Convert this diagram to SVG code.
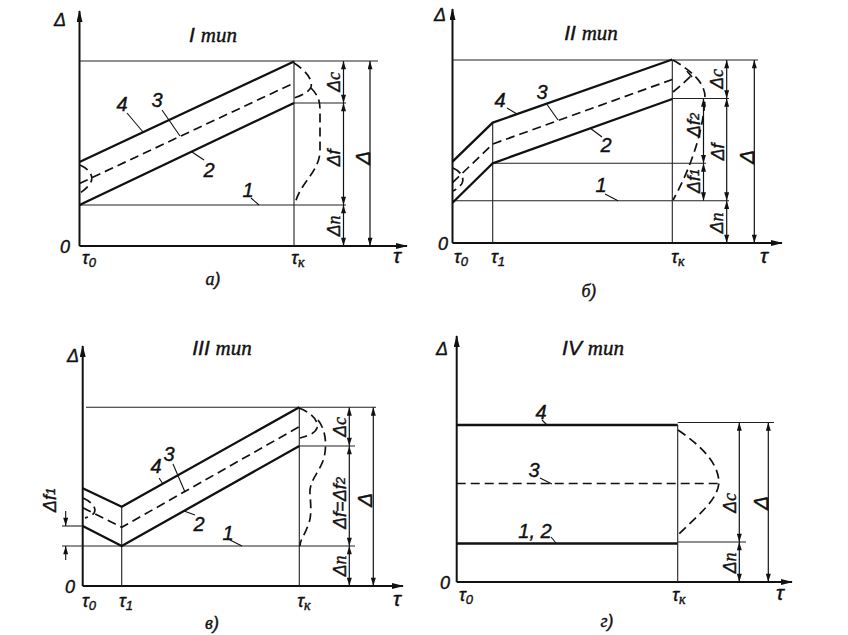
<svg xmlns="http://www.w3.org/2000/svg" width="848" height="635" viewBox="0 0 848 635">
<style>
.bg{fill:#fff}
.ax{stroke:#111;stroke-width:2;fill:none;marker-end:url(#axa)}
.thk{stroke:#111;stroke-width:2.3;fill:none;stroke-linejoin:round}
.thin{stroke:#222;stroke-width:1.1;fill:none}
.dash{stroke:#111;stroke-width:1.7;fill:none;stroke-dasharray:9 5}
.dim{stroke:#111;stroke-width:1.2;fill:none;marker-start:url(#ar);marker-end:url(#ar)}
.ldr{stroke:#111;stroke-width:1.1;fill:none}
.t{font-family:"Liberation Sans",Arial,sans-serif;font-style:italic;fill:#111;font-size:18px;stroke:#111;stroke-width:0.4}
.n{font-size:20px}
.ttl{font-size:21px}
.cy{font-family:"Liberation Serif","Times New Roman",serif;font-style:italic}
.dl{font-size:18px}
.big{font-size:21px}
</style>
<defs>
<marker id="ar" viewBox="0 0 10 6" refX="10" refY="3" markerWidth="9" markerHeight="5" markerUnits="userSpaceOnUse" orient="auto-start-reverse"><path d="M0,0 L10,3 L0,6 z" fill="#111"/></marker>
<marker id="axa" viewBox="0 0 12 6" refX="11" refY="3" markerWidth="12" markerHeight="6" markerUnits="userSpaceOnUse" orient="auto"><path d="M0,0 L12,3 L0,6 z" fill="#111"/></marker>
</defs>
<rect class="bg" width="848" height="635"/>

<!-- Panel a -->
<g id="panel-a">
<g id="a-connectors">
<line class="ax" x1="79.5" y1="246" x2="79.5" y2="11"/>
<line class="ax" x1="79.5" y1="246" x2="407" y2="246"/>
<line class="thin" x1="79.5" y1="61" x2="378" y2="61"/>
<line class="thin" x1="294" y1="61" x2="294" y2="246"/>
<line class="thin" x1="79.5" y1="205" x2="346" y2="205"/>
<line class="thin" x1="294" y1="103" x2="346" y2="103"/>
<line class="thk" x1="79.5" y1="162" x2="294" y2="61.5"/>
<line class="thk" x1="79.5" y1="205" x2="294" y2="103"/>
<line class="dash" x1="79.5" y1="183.5" x2="294" y2="83"/>
<line class="dim" x1="343.5" y1="61" x2="343.5" y2="103"/>
<line class="dim" x1="343.5" y1="103" x2="343.5" y2="205"/>
<line class="dim" x1="343.5" y1="205" x2="343.5" y2="246"/>
<line class="dim" x1="370" y1="61" x2="370" y2="246"/>
<path class="dash" d="M80,165 C91,170 95,178 89,185 C86,189 83,191 80,193"/>
<path class="dash" d="M294,63 C305,70 313,79 311,87 C309,92 301,96 294,98"/>
<path class="dash" d="M311,88 C318,95 320,101 320,110 L320,150 C320,172 300,182 295,204"/>
<line class="ldr" x1="127" y1="113" x2="143" y2="132"/>
<line class="ldr" x1="162" y1="110" x2="180" y2="136"/>
<line class="ldr" x1="204" y1="160" x2="192" y2="152"/>
<line class="ldr" x1="251" y1="198" x2="259" y2="205"/>
</g>
<g id="a-labels">
<text class="t ttl" x="213" y="42" text-anchor="middle">I <tspan class="cy">тип</tspan></text>
<text class="t" x="60" y="26" text-anchor="middle">Δ</text>
<text class="t" x="65" y="253" text-anchor="middle">0</text>
<text class="t" x="89" y="264" text-anchor="middle">τ<tspan font-size="13" dy="3">0</tspan></text>
<text class="t" x="298" y="264" text-anchor="middle">τ<tspan class="cy" font-size="14" dy="3">к</tspan></text>
<text class="t big" x="397" y="263" text-anchor="middle">τ</text>
<text class="t" x="213" y="285" text-anchor="middle"><tspan class="cy">а</tspan>)</text>
<text class="t n" x="122" y="111" text-anchor="middle">4</text>
<text class="t n" x="157" y="107" text-anchor="middle">3</text>
<text class="t n" x="209" y="177" text-anchor="middle">2</text>
<text class="t n" x="248" y="197" text-anchor="middle">1</text>
<text class="t dl" x="334" y="82" text-anchor="middle" dominant-baseline="central" transform="rotate(-90 334 82)">Δ<tspan class="cy">с</tspan></text>
<text class="t dl" x="334" y="158" text-anchor="middle" dominant-baseline="central" transform="rotate(-90 334 158)">Δf</text>
<text class="t dl" x="334" y="226" text-anchor="middle" dominant-baseline="central" transform="rotate(-90 334 226)">Δ<tspan class="cy">п</tspan></text>
<text class="t big" x="362" y="158" text-anchor="middle" dominant-baseline="central" transform="rotate(-90 362 158)">Δ</text>
</g>
</g>

<!-- Panel b -->
<g id="panel-b">
<g id="b-connectors">
<line class="ax" x1="452.5" y1="243" x2="452.5" y2="9"/>
<line class="ax" x1="452.5" y1="243" x2="782" y2="243"/>
<line class="thin" x1="452.5" y1="60" x2="758" y2="60"/>
<line class="thin" x1="492.7" y1="122.7" x2="492.7" y2="243"/>
<line class="thin" x1="672.3" y1="60" x2="672.3" y2="243"/>
<line class="thin" x1="492.7" y1="163.3" x2="706" y2="163.3"/>
<line class="thin" x1="452.5" y1="200.7" x2="729" y2="200.7"/>
<line class="thin" x1="672.3" y1="98.5" x2="729" y2="98.5"/>
<polyline class="thk" points="452.5,161.7 492.7,122.7 672.3,59.5"/>
<polyline class="thk" points="452.5,202.7 492.7,163.3 672.3,99"/>
<polyline class="dash" points="452.5,182.7 492.7,144 672.3,79.5"/>
<line class="dim" x1="726.7" y1="60" x2="726.7" y2="98.5"/>
<line class="dim" x1="726.7" y1="98.5" x2="726.7" y2="200.7"/>
<line class="dim" x1="726.7" y1="200.7" x2="726.7" y2="243"/>
<line class="dim" x1="703.5" y1="98.5" x2="703.5" y2="163.3"/>
<line class="dim" x1="703.5" y1="163.3" x2="703.5" y2="200.7"/>
<line class="dim" x1="754.3" y1="60" x2="754.3" y2="243"/>
<path class="dash" d="M453,168 C462,172 466,180 460,186 C457,189 455,190 453,191"/>
<path class="dash" d="M673,60 C690,70 705,82 705,97 C704,130 690,170 673,200"/>
<path class="dash" d="M673,92 C680,86 686,81 691,76 M687,71 L692,77"/>
<line class="ldr" x1="507" y1="108" x2="517" y2="114"/>
<line class="ldr" x1="546" y1="103" x2="558" y2="120"/>
<line class="ldr" x1="602" y1="137" x2="590" y2="128"/>
<line class="ldr" x1="605" y1="194" x2="618" y2="200.7"/>
</g>
<g id="b-labels">
<text class="t ttl" x="591" y="40" text-anchor="middle">II <tspan class="cy">тип</tspan></text>
<text class="t" x="440" y="21" text-anchor="middle">Δ</text>
<text class="t" x="443" y="250" text-anchor="middle">0</text>
<text class="t" x="461" y="263" text-anchor="middle">τ<tspan font-size="13" dy="3">0</tspan></text>
<text class="t" x="498" y="263" text-anchor="middle">τ<tspan font-size="13" dy="3">1</tspan></text>
<text class="t" x="678" y="263" text-anchor="middle">τ<tspan class="cy" font-size="14" dy="3">к</tspan></text>
<text class="t big" x="764" y="263" text-anchor="middle">τ</text>
<text class="t" x="589" y="297" text-anchor="middle"><tspan class="cy">б</tspan>)</text>
<text class="t n" x="500" y="107" text-anchor="middle">4</text>
<text class="t n" x="542" y="99" text-anchor="middle">3</text>
<text class="t n" x="606" y="152" text-anchor="middle">2</text>
<text class="t n" x="601" y="192" text-anchor="middle">1</text>
<text class="t dl" x="717" y="79" text-anchor="middle" dominant-baseline="central" transform="rotate(-90 717 79)">Δ<tspan class="cy">с</tspan></text>
<text class="t dl" x="718" y="152" text-anchor="middle" dominant-baseline="central" transform="rotate(-90 718 152)">Δf</text>
<text class="t dl" x="717" y="223" text-anchor="middle" dominant-baseline="central" transform="rotate(-90 717 223)">Δ<tspan class="cy">п</tspan></text>
<text class="t dl" x="694" y="125" text-anchor="middle" dominant-baseline="central" transform="rotate(-90 694 125)">Δf<tspan font-size="13">2</tspan></text>
<text class="t dl" x="694" y="181" text-anchor="middle" dominant-baseline="central" transform="rotate(-90 694 181)">Δf<tspan font-size="13">1</tspan></text>
<text class="t big" x="746" y="157" text-anchor="middle" dominant-baseline="central" transform="rotate(-90 746 157)">Δ</text>
</g>
</g>

<!-- Panel c -->
<g id="panel-c">
<g id="c-connectors">
<line class="ax" x1="82.7" y1="586" x2="82.7" y2="346"/>
<line class="ax" x1="82.7" y1="586" x2="403" y2="586"/>
<line class="thin" x1="86" y1="407.3" x2="376" y2="407.3"/>
<line class="thin" x1="121.7" y1="506.7" x2="121.7" y2="586"/>
<line class="thin" x1="299.3" y1="407.3" x2="299.3" y2="586"/>
<line class="thin" x1="62" y1="546" x2="355" y2="546"/>
<line class="thin" x1="62" y1="526" x2="82.7" y2="526"/>
<line class="thin" x1="299.3" y1="446" x2="355" y2="446"/>
<polyline class="thk" points="82.7,488.3 121.7,506.7 299.3,407.3"/>
<polyline class="thk" points="82.7,526 121.7,546 299.3,446"/>
<polyline class="dash" points="82.7,507.7 121.7,527.3 299.3,426.7"/>
<line class="dim" x1="349.3" y1="407.3" x2="349.3" y2="446"/>
<line class="dim" x1="349.3" y1="446" x2="349.3" y2="546"/>
<line class="dim" x1="349.3" y1="546" x2="349.3" y2="586"/>
<line class="dim" x1="373.3" y1="407.3" x2="373.3" y2="586"/>
<line class="ldr" x1="65.7" y1="511" x2="65.7" y2="526" marker-end="url(#ar)"/>
<line class="ldr" x1="65.7" y1="560" x2="65.7" y2="546" marker-end="url(#ar)"/>
<path class="dash" d="M83,498 C92,502 97,508 94,513 C92,516 88,517 85,518"/>
<path class="dash" d="M299,408 C310,412 319,420 317,428 C315,434 306,436 300,438"/>
<path class="dash" d="M318,420 C326,430 327,445 324,458 C320,472 309,480 310,494 C311,508 312,518 307,528 C304,536 300,540 300,546"/>
<line class="ldr" x1="159" y1="478" x2="163" y2="484"/>
<line class="ldr" x1="173" y1="464" x2="185" y2="492"/>
<line class="ldr" x1="195" y1="515" x2="184" y2="511"/>
<line class="ldr" x1="230" y1="540" x2="242" y2="546"/>
</g>
<g id="c-labels">
<text class="t ttl" x="222" y="355" text-anchor="middle">III <tspan class="cy">тип</tspan></text>
<text class="t" x="73" y="362" text-anchor="middle">Δ</text>
<text class="t" x="70" y="593" text-anchor="middle">0</text>
<text class="t" x="89" y="607" text-anchor="middle">τ<tspan font-size="13" dy="3">0</tspan></text>
<text class="t" x="126" y="607" text-anchor="middle">τ<tspan font-size="13" dy="3">1</tspan></text>
<text class="t" x="304" y="607" text-anchor="middle">τ<tspan class="cy" font-size="14" dy="3">к</tspan></text>
<text class="t big" x="397" y="606" text-anchor="middle">τ</text>
<text class="t" x="212" y="629" text-anchor="middle"><tspan class="cy">в</tspan>)</text>
<text class="t n" x="156" y="473" text-anchor="middle">4</text>
<text class="t n" x="169" y="461" text-anchor="middle">3</text>
<text class="t n" x="199" y="531" text-anchor="middle">2</text>
<text class="t n" x="228" y="540" text-anchor="middle">1</text>
<text class="t dl" x="50" y="500" text-anchor="middle" dominant-baseline="central" transform="rotate(-90 50 500)">Δf<tspan font-size="13">1</tspan></text>
<text class="t dl" x="340" y="427" text-anchor="middle" dominant-baseline="central" transform="rotate(-90 340 427)">Δ<tspan class="cy">с</tspan></text>
<text class="t dl" x="340" y="503" text-anchor="middle" dominant-baseline="central" transform="rotate(-90 340 503)">Δf=Δf<tspan font-size="13">2</tspan></text>
<text class="t dl" x="340" y="566" text-anchor="middle" dominant-baseline="central" transform="rotate(-90 340 566)">Δ<tspan class="cy">п</tspan></text>
<text class="t big" x="364" y="500" text-anchor="middle" dominant-baseline="central" transform="rotate(-90 364 500)">Δ</text>
</g>
</g>

<!-- Panel d -->
<g id="panel-d">
<g id="d-connectors">
<line class="ax" x1="456.7" y1="582" x2="456.7" y2="336"/>
<line class="ax" x1="456.7" y1="582" x2="792" y2="582"/>
<line class="thk" x1="456.7" y1="425" x2="677.7" y2="425" stroke-width="2.6"/>
<line class="thin" x1="677.7" y1="422.5" x2="774" y2="422.5"/>
<line class="thk" x1="456.7" y1="543.5" x2="677.7" y2="543.5" stroke-width="2.6"/>
<line class="thin" x1="677.7" y1="542" x2="746" y2="542"/>
<line class="dash" x1="456.7" y1="483.5" x2="719" y2="483.5"/>
<line class="thin" x1="677.7" y1="425" x2="677.7" y2="582" stroke-width="1.6"/>
<line class="dim" x1="739.3" y1="422.5" x2="739.3" y2="542"/>
<line class="dim" x1="739.3" y1="542" x2="739.3" y2="582"/>
<line class="dim" x1="768.3" y1="422.5" x2="768.3" y2="582"/>
<path class="dash" d="M678,430 C700,445 718,462 719,482 C718,500 698,515 679,534"/>
<line class="ldr" x1="542" y1="420" x2="547" y2="425"/>
<line class="ldr" x1="540" y1="478" x2="552" y2="484"/>
<line class="ldr" x1="551" y1="537" x2="556" y2="543"/>
</g>
<g id="d-labels">
<text class="t ttl" x="593" y="355" text-anchor="middle">IV <tspan class="cy">тип</tspan></text>
<text class="t" x="442" y="355" text-anchor="middle">Δ</text>
<text class="t" x="445" y="589" text-anchor="middle">0</text>
<text class="t" x="466" y="601" text-anchor="middle">τ<tspan font-size="13" dy="3">0</tspan></text>
<text class="t" x="679" y="601" text-anchor="middle">τ<tspan class="cy" font-size="14" dy="3">к</tspan></text>
<text class="t big" x="780" y="600" text-anchor="middle">τ</text>
<text class="t" x="607" y="627" text-anchor="middle"><tspan class="cy">г</tspan>)</text>
<text class="t n" x="541" y="419" text-anchor="middle">4</text>
<text class="t n" x="534" y="477" text-anchor="middle">3</text>
<text class="t n" x="535" y="538" text-anchor="middle">1, 2</text>
<text class="t dl" x="730" y="503" text-anchor="middle" dominant-baseline="central" transform="rotate(-90 730 503)">Δ<tspan class="cy">с</tspan></text>
<text class="t dl" x="730" y="563" text-anchor="middle" dominant-baseline="central" transform="rotate(-90 730 563)">Δ<tspan class="cy">п</tspan></text>
<text class="t big" x="760" y="503" text-anchor="middle" dominant-baseline="central" transform="rotate(-90 760 503)">Δ</text>
</g>
</g>
</svg>
